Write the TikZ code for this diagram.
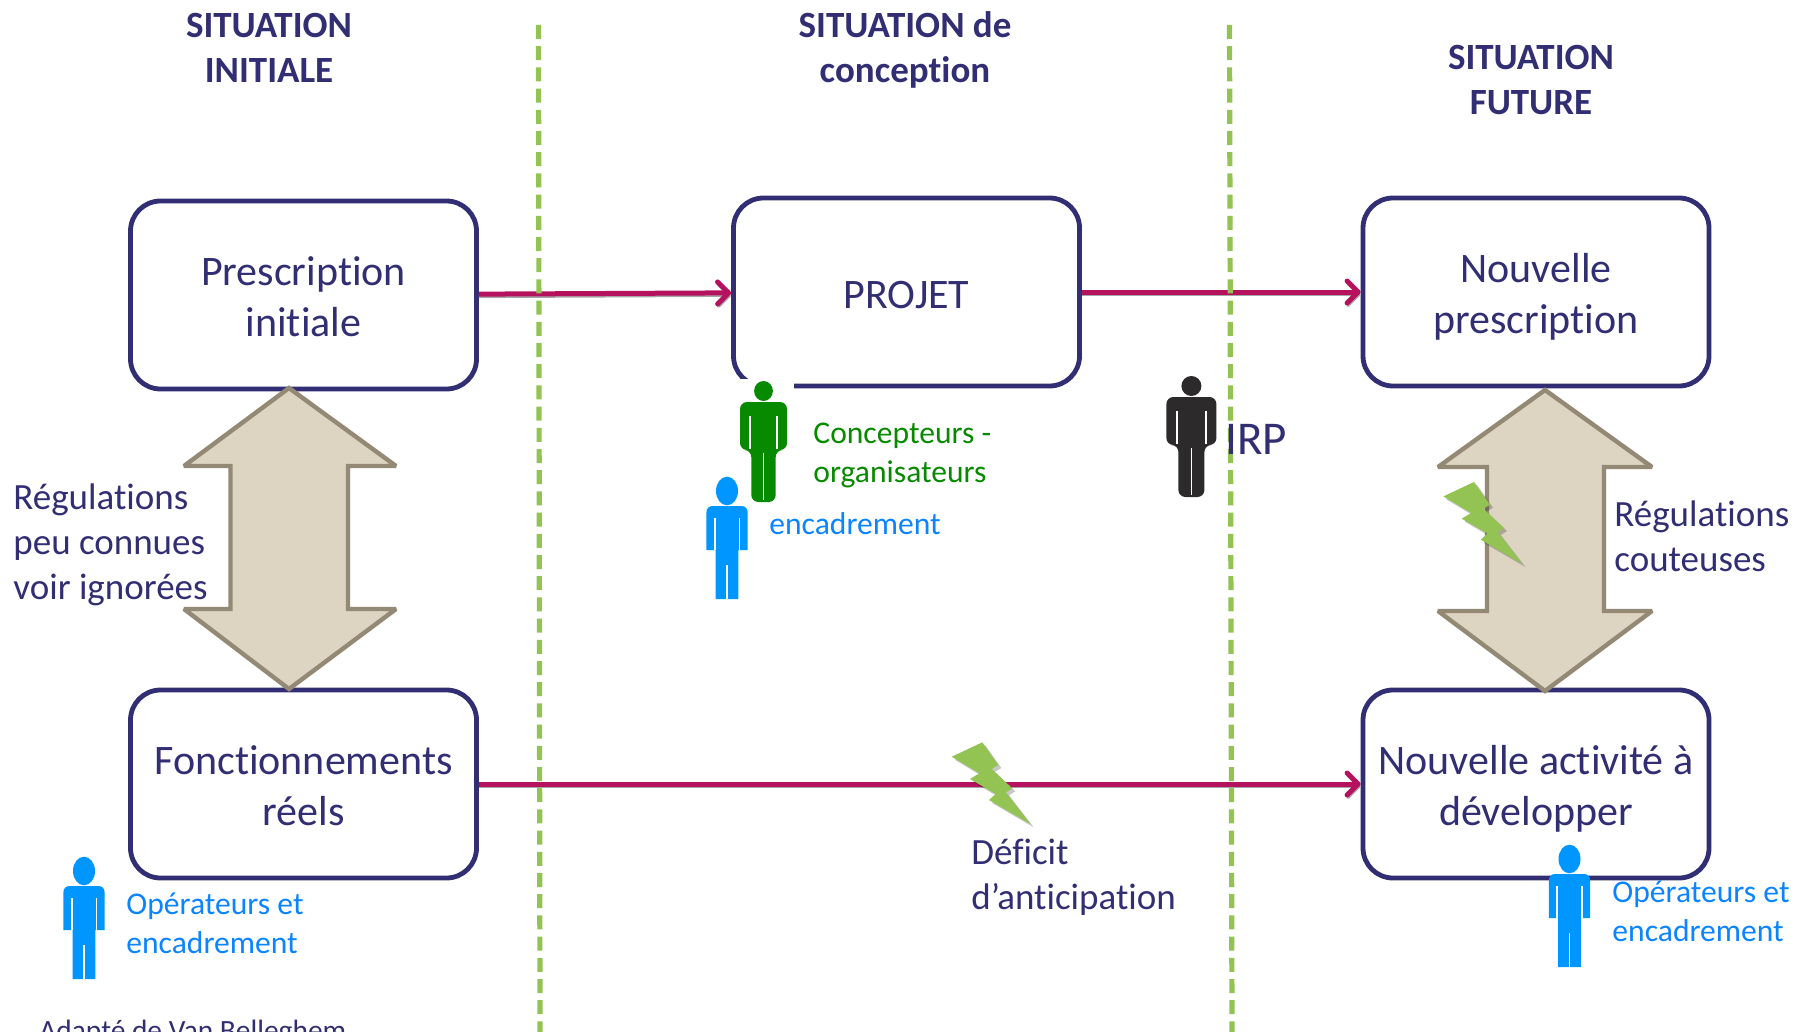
\documentclass[tikz,border=0pt]{standalone}
\usepackage{fontspec}
\setmainfont[Ligatures=NoCommon]{Carlito}
\usetikzlibrary{arrows.meta}

\definecolor{navy_txt}{HTML}{322E73}
\definecolor{crimson_arr}{HTML}{B5115F}
\definecolor{green_bolt}{HTML}{92C353}
\definecolor{green_fig}{HTML}{088A00}
\definecolor{blue_fig}{HTML}{0096FF}
\definecolor{blue_txt}{HTML}{0A84FF}
\definecolor{black_fig}{HTML}{2D2A2B}
\definecolor{tan_fill}{HTML}{DDD4C2}
\definecolor{tan_line}{HTML}{938974}

\newcommand{\linestrut}{\rule[-.15\baselineskip]{0pt}{\baselineskip}}
\newcommand{\firstline}{\rule{0pt}{20pt}}

\tikzset{
    pics/fig_round/.style={code={
        \begin{scope}[xscale=#1]
        \path[pic actions] (0,10) ellipse [x radius=10, y radius=10];
        \path[pic actions, rounded corners=3.5] (-25,21) -- (-25,69) -- (-13,69) -- (-13,121) -- (13,121) -- (13,69) -- (25,69) -- (25,21) -- cycle;
        \draw[white, line width=0.8pt] (-14.5,35) -- (-14.5,68) (14.5,35) -- (14.5,68) (0,72) -- (0,119);
        \end{scope}
    }},
    pics/fig_round/.default=1,
    pics/fig_block/.style={code={
        \path[pic actions] (0,14) ellipse [x radius=11, y radius=14.3];
        \path[pic actions] (-20.7,73) -- (-20.7,36) .. controls (-20.7,31) and (-18,29) .. (-14,29) -- (14,29) .. controls (18,29) and (20.7,31) .. (20.7,36) -- (20.7,73) -- (12,73) -- (11.3,73) -- (11.3,122) -- (-11.3,122) -- (-11.3,73) -- cycle;
        \draw[white, line width=0.8pt] (-12.3,41) -- (-12.3,73) (12.3,41) -- (12.3,73) (0,88) -- (0,122);
    }},
    pics/bolt/.style={code={
        \path[fill=black, opacity=0.22] (3,3) -- (19,25.7) -- (12.4,29.7) -- (33,49) -- (26.7,53) -- (51.4,85) -- (9.7,60.7) -- (16.4,54.7) -- (-9.3,39.7) -- (0,34) -- (-27.6,17.4) -- cycle;
        \path[fill=green_bolt] (0,0) -- (16,22.7) -- (9.4,26.7) -- (30,46) -- (23.7,50) -- (48.4,82) -- (6.7,57.7) -- (13.4,51.7) -- (-12.3,36.7) -- (-3,31) -- (-30.6,14.4) -- cycle;
    }}
}

\begin{document}
\begin{tikzpicture}[x=0.5pt, y=-0.5pt, execute at begin node=\linestrut, execute at end node=\linestrut]
    \tikzstyle{node_box} = [draw=navy_txt, line width=2.4pt, fill=white, rectangle, rounded corners=15pt, minimum width=173pt, minimum height=94pt, align=center, text=navy_txt, inner sep=0pt, font=\fontsize{21}{25.5}\selectfont]
    \tikzstyle{node_title} = [align=center, text=navy_txt, inner sep=0pt, font=\fontsize{18.5}{22.5}\selectfont\bfseries]
    \tikzstyle{node_text} = [anchor=west, align=left, text=navy_txt, inner sep=0pt, font=\fontsize{18.5}{22.5}\selectfont]
    \tikzstyle{node_role} = [anchor=west, align=left, inner sep=0pt, font=\fontsize{15.8}{19.5}\selectfont]
    \tikzstyle{arrow_crimson} = [-{Straight Barb[length=5.5pt, width=11pt, round]}, crimson_arr, line width=2.5pt, preaction={draw=black!35, line width=1.6pt, transform canvas={yshift=-1.2pt}}]
    \tikzstyle{line_green} = [green_bolt, line width=2.6pt, dash pattern=on 7pt off 3.6pt]
    \tikzstyle{arrow_double} = [fill=tan_fill, draw=tan_line, line width=2.2pt, miter limit=3]

    \useasboundingbox (0,0) rectangle (1808,1032);
    \clip (0,0) rectangle (1808,1032);

    \node[node_title] (tInit) at (269,51.5) {SITUATION\\INITIALE};
    \node[node_title] (tConc) at (905,50.3) {SITUATION de\\conception};
    \node[node_title] (tFut) at (1531,83) {SITUATION\\FUTURE};

    \node[node_box] (nPrescInit) at (303.5,295) {\firstline Prescription\\initiale};
    \node[node_box, execute at end node={\rule[-5pt]{0pt}{0pt}}] (nProjet) at (906.5,292) {PROJET};
    \node[node_box] (nPrescNew) at (1536,292) {\firstline Nouvelle\\prescription};
    \node[node_box] (nReel) at (303.5,784) {\firstline Fonctionnements\\réels};
    \node[node_box] (nActiv) at (1536,784) {\firstline Nouvelle activité à\\développer};

    \draw[arrow_crimson] (nPrescInit) -- (nProjet);
    \draw[arrow_crimson] (nProjet) -- (nPrescNew);
    \draw[arrow_crimson] (nReel) -- (nActiv);

    \coordinate (lineA1) at (538.5,25);
    \coordinate (lineA2) at (540,1032);
    \coordinate (lineB1) at (1229.5,25);
    \coordinate (lineB2) at (1232,1032);
    \draw[line_green] (lineA1) -- (lineA2);
    \draw[line_green] (lineB1) -- (lineB2);

    \draw[arrow_double] (289,388) -- (396,466) -- (348,466) -- (348,609) -- (396,609) -- (289,689) -- (184,609) -- (230.5,609) -- (230.5,466) -- (184,466) -- cycle;
    \draw[arrow_double] (1545,390) -- (1652,467) -- (1604,467) -- (1604,611) -- (1652,611) -- (1545,691) -- (1438,611) -- (1487,611) -- (1487,467) -- (1438,467) -- cycle;

    \pic at (1474,482) {bolt};
    \pic at (982.3,742.3) {bolt};

    \fill[white] (741,379) rectangle (793.5,393);
    \pic[fill=green_fig] at (763.5,381) {fig_round=0.94};
    \pic[fill=blue_fig] at (727,477) {fig_block};
    \pic[fill=black_fig] at (1191.4,376) {fig_round};
    \pic[fill=blue_fig] at (84,857) {fig_block};
    \pic[fill=blue_fig] at (1569.5,845) {fig_block};

    \node[node_text] (lRegA) at (13,545) {Régulations\\peu connues\\voir ignorées};
    \node[node_text] (lRegB) at (1614,540) {Régulations\\couteuses};
    \node[node_text] (lDeficit) at (971,878) {Déficit\\d’anticipation};
    \node[node_text, font=\fontsize{23.5}{25.5}\selectfont] (lIrp) at (1225,437) {IRP};
    \node[node_role, text=green_fig] (lConc) at (813,455.5) {Concepteurs -\\organisateurs};
    \node[node_role, text=blue_txt] (lEnc) at (769,520.5) {encadrement};
    \node[node_role, text=blue_txt] (lOpA) at (126,926) {Opérateurs et\\encadrement};
    \node[node_role, text=blue_txt] (lOpB) at (1612,914) {Opérateurs et\\encadrement};
    \node[node_role, text=navy_txt, font=\fontsize{14.7}{19.5}\selectfont] (lSource) at (39,1027) {Adapté de Van Belleghem};
\end{tikzpicture}
\end{document}
